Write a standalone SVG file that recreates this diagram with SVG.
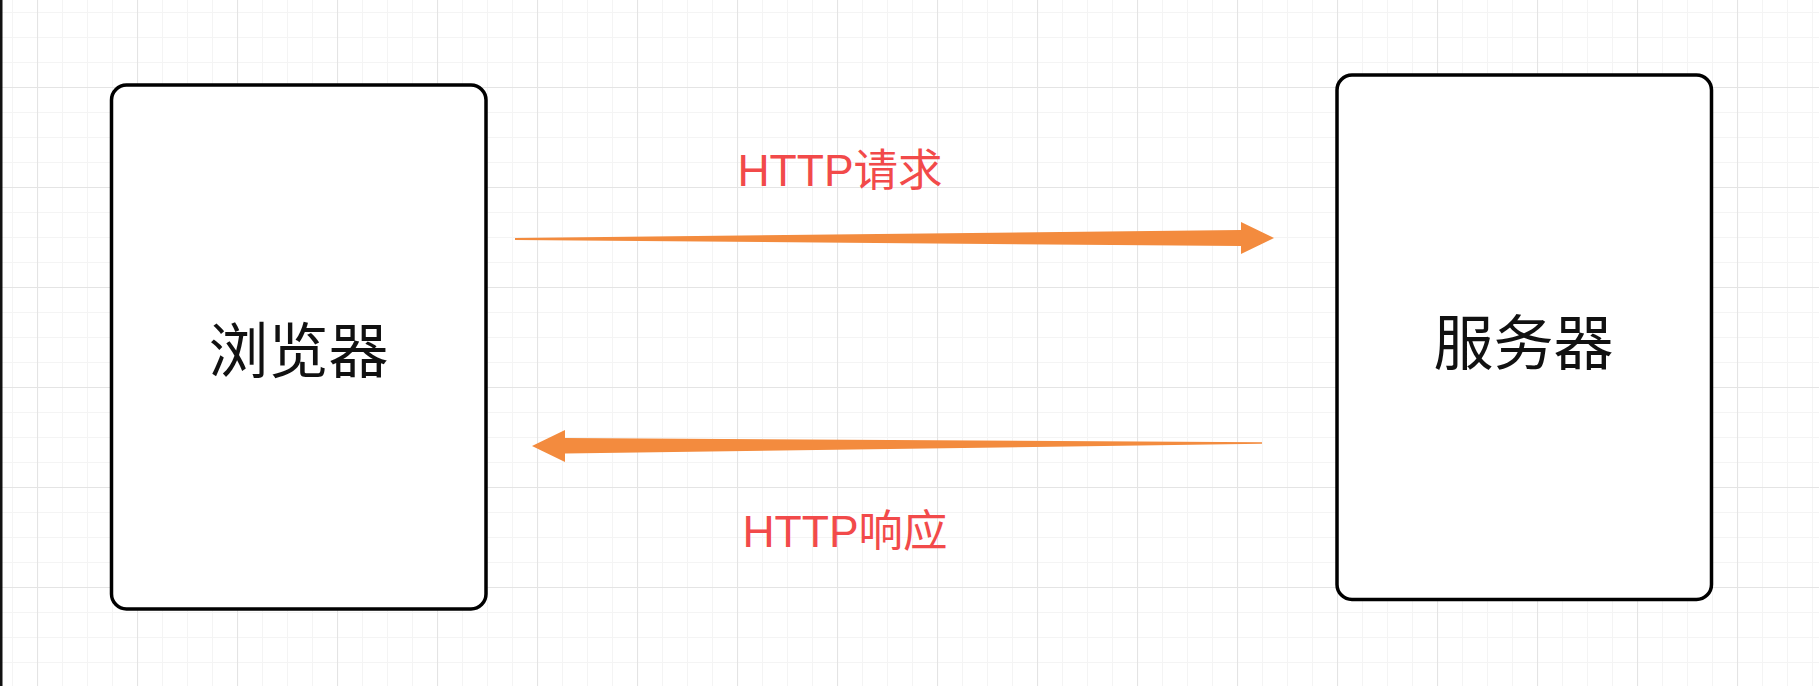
<svg xmlns="http://www.w3.org/2000/svg" width="1819" height="686" viewBox="0 0 1819 686">
  <defs>
    <pattern id="minor" patternUnits="userSpaceOnUse" x="12" y="12" width="25" height="25">
      <path d="M0.5 0V25M0 0.5H25" fill="none" stroke="#f4f4f4" stroke-width="1"/>
    </pattern>
    <pattern id="major" patternUnits="userSpaceOnUse" x="37" y="87" width="100" height="100">
      <path d="M0.5 0V100M0 0.5H100" fill="none" stroke="#e4e4e4" stroke-width="1.2"/>
    </pattern>
    <style>
      .box { fill: #ffffff; stroke: #000000; stroke-width: 3.5; }
      .node-label { font-family: "Noto Sans CJK SC", "Liberation Sans", sans-serif; font-size: 60px; fill: #111111; text-anchor: middle; dominant-baseline: central; }
      .edge-label { font-family: "Liberation Sans", "Noto Sans CJK SC", sans-serif; font-size: 44.5px; fill: #f24a4a; text-anchor: middle; }
      .arrow { fill: #f38b3e; stroke: none; }
    </style>
  </defs>
  <rect x="0" y="0" width="1819" height="686" fill="#ffffff"/>
  <rect x="0" y="0" width="1819" height="686" fill="url(#minor)"/>
  <rect x="0" y="0" width="1819" height="686" fill="url(#major)"/>
  <rect x="0" y="0" width="2.5" height="686" fill="#111111"/>

  <g id="browser">
    <rect class="box" x="111.5" y="85" width="374.5" height="524" rx="15" ry="15"/>
    <text class="node-label" x="298.5" y="346">浏览器</text>
  </g>

  <g id="server">
    <rect class="box" x="1337" y="75" width="374.5" height="524.5" rx="15" ry="15"/>
    <text class="node-label" x="1523.5" y="338">服务器</text>
  </g>

  <g id="connectors">
    <g id="request">
      <polygon class="arrow" points="515,238 1241,230 1241,222 1274,238 1241,254 1241,246 515,240"/>
      <text class="edge-label" x="840" y="186">HTTP请求</text>
    </g>
    <g id="response">
      <polygon class="arrow" points="1262,442.3 565,438 565,430 532,446 565,462 565,453.5 1262,443.8"/>
      <text class="edge-label" x="845" y="547">HTTP响应</text>
    </g>
  </g>
</svg>
